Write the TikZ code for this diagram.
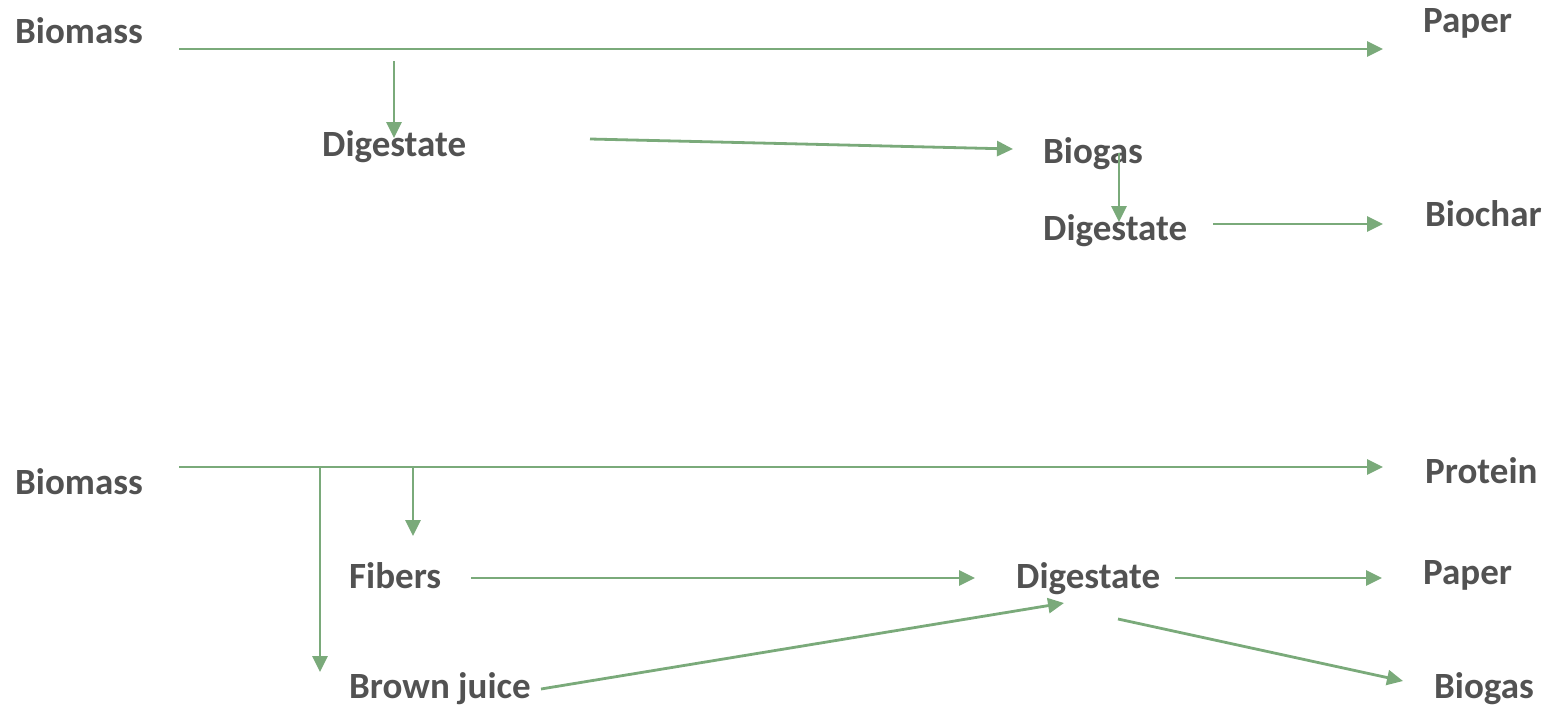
\documentclass[tikz,border=0pt]{standalone}
\usepackage{fontspec}
\setmainfont{Carlito}
\usetikzlibrary{arrows.meta}
\definecolor{flowgreen}{RGB}{122,170,122}
\definecolor{labelgray}{RGB}{82,82,82}
\begin{document}
\begin{tikzpicture}[x=1pt,y=-1pt,
  lbl/.style={font=\fontsize{37}{41}\selectfont\bfseries, text=labelgray, inner sep=0pt, anchor=base west},
  flow/.style={draw=flowgreen, line width=2.8pt, -{Triangle[length=16pt,width=15pt]}}]
\useasboundingbox (0,0) rectangle (1548,707);

% ---- upper chain ----
\node[lbl] (bmA)  at (15,43)   {Biomass};
\node[lbl] (ppA)  at (1423,32) {Paper};
\node[lbl] (dgA)  at (322,156) {Digestate};
\node[lbl] (bgA)  at (1043,163) {Biogas};
\node[lbl] (dgB)  at (1043,240) {Digestate};
\node[lbl] (bcA)  at (1425,226) {Biochar};

\coordinate (mainA) at (179,49);
\coordinate (tipA)  at (1383,49);
\coordinate (dropA) at (394,61);
\coordinate (dropAe) at (394,138);
\coordinate (digAo) at (590,139);
\coordinate (bgAi)  at (1013,149);
\coordinate (bgAo)  at (1119,153);
\coordinate (dgBi)  at (1119,222);
\coordinate (dgBo)  at (1213,224);
\coordinate (bcAi)  at (1383,224);

\draw[flow] (mainA) -- (tipA);
\draw[flow] (dropA) -- (dropAe);
\draw[flow] (digAo) -- (bgAi);
\draw[flow] (bgAo) -- (dgBi);
\draw[flow] (dgBo) -- (bcAi);

% ---- lower chain ----
\node[lbl] (bmB)  at (15,494)   {Biomass};
\node[lbl] (prB)  at (1425,483) {Protein};
\node[lbl] (fbB)  at (349,588)  {Fibers};
\node[lbl] (dgC)  at (1016,588) {Digestate};
\node[lbl] (ppB)  at (1423,584) {Paper};
\node[lbl] (bjB)  at (349,698)  {Brown juice};
\node[lbl] (bgB)  at (1434,698) {Biogas};

\coordinate (mainB)  at (179,467);
\coordinate (tipB)   at (1383,467);
\coordinate (splitJ) at (320,467);
\coordinate (splitJe) at (320,672);
\coordinate (splitF) at (413,467);
\coordinate (splitFe) at (413,536);
\coordinate (fbBo)   at (471,578);
\coordinate (dgCi)   at (975,578);
\coordinate (dgCo)   at (1175,578);
\coordinate (ppBi)   at (1382,578);
\coordinate (bjBo)   at (541,689);
\coordinate (dgCj)   at (1064,603);
\coordinate (dgCb)   at (1118,619);
\coordinate (bgBi)   at (1403,681);

\draw[flow] (mainB) -- (tipB);
\draw[flow] (splitJ) -- (splitJe);
\draw[flow] (splitF) -- (splitFe);
\draw[flow] (fbBo) -- (dgCi);
\draw[flow] (dgCo) -- (ppBi);
\draw[flow] (bjBo) -- (dgCj);
\draw[flow] (dgCb) -- (bgBi);
\end{tikzpicture}
\end{document}
